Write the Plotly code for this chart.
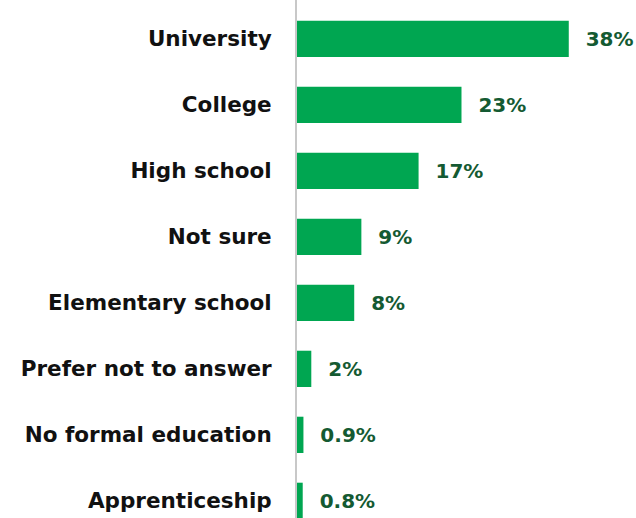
import plotly.graph_objects as go

categories = ["University", "College", "High school", "Not sure", "Elementary school",
              "Prefer not to answer", "No formal education", "Apprenticeship"]
values = [38, 23, 17, 9, 8, 2, 0.9, 0.8]
value_labels = ["38%", "23%", "17%", "9%", "8%", "2%", "0.9%", "0.8%"]

positions = list(range(len(categories)))

fig = go.Figure(go.Bar(
    x=values,
    y=positions,
    orientation="h",
    marker=dict(color="#00A651", line=dict(width=0)),
    width=0.55,
    text=value_labels,
    textposition="outside",
    cliponaxis=False,
    textfont=dict(family="DejaVu Sans", size=20, color="#145A32"),
    texttemplate="<b>  %{text}</b>",
))

fig.update_layout(
    width=636, height=518,
    margin=dict(l=297, r=0, t=0, b=0),
    paper_bgcolor="white", plot_bgcolor="white",
    showlegend=False,
    xaxis=dict(range=[0, 47.4], visible=False),
    yaxis=dict(
        range=[7.26, -0.59],
        tickvals=positions,
        ticktext=["<b>%s</b>" % c for c in categories],
        tickfont=dict(family="DejaVu Sans", size=21.5, color="#111111"),
        ticks="",
        ticklabelstandoff=19,
        showgrid=False,
        zeroline=False,
        showline=True,
        linecolor="#C8C8C8",
        linewidth=2,
    ),
)

fig.write_html("out.html")
